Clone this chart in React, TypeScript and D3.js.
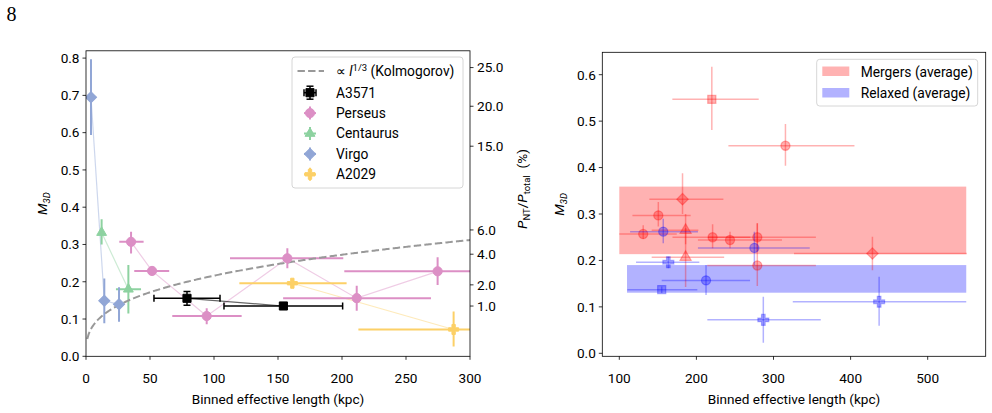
import React from "react";
import * as d3 from "d3";

// ---------- Left panel data (l: kpc, m: M3D, with error ranges) ----------
const a3571 = [
  { l: 78.9, m: 0.1556, l0: 53.1, l1: 104.7, m0: 0.137, m1: 0.174 },
  { l: 154.2, m: 0.135, l0: 107.8, l1: 200.5, m0: 0.13, m1: 0.14 },
];
const perseus = [
  { l: 35.2, m: 0.307, l0: 26, l1: 45, m0: 0.276, m1: 0.334 },
  { l: 51.6, m: 0.229, l0: 37.7, l1: 65, m0: 0.218, m1: 0.24 },
  { l: 94.3, m: 0.108, l0: 67.4, l1: 121.6, m0: 0.086, m1: 0.129 },
  { l: 157.3, m: 0.263, l0: 112.5, l1: 201, m0: 0.236, m1: 0.29 },
  { l: 211.5, m: 0.156, l0: 154, l1: 269.5, m0: 0.122, m1: 0.189 },
  { l: 274.7, m: 0.228, l0: 201.8, l1: 350, m0: 0.191, m1: 0.266 },
];
const centaurus = [
  { l: 12.2, m: 0.332, l0: 12.2, l1: 12.2, m0: 0.3, m1: 0.368 },
  { l: 33.1, m: 0.18, l0: 23.4, l1: 43, m0: 0.115, m1: 0.245 },
];
const virgo = [
  { l: 3.9, m: 0.695, l0: 3.9, l1: 3.9, m0: 0.594, m1: 0.797 },
  { l: 14.3, m: 0.149, l0: 14.3, l1: 14.3, m0: 0.0885, m1: 0.209 },
  { l: 25.8, m: 0.1395, l0: 25.8, l1: 25.8, m0: 0.093, m1: 0.185 },
];
const a2029 = [
  { l: 161.2, m: 0.196, l0: 119.8, l1: 203.6, m0: 0.185, m1: 0.207 },
  { l: 287.2, m: 0.072, l0: 212.8, l1: 360, m0: 0.026, m1: 0.12 },
];
const kolmoNorm = 0.0466;
const leftXTicks = [0, 50, 100, 150, 200, 250, 300];
const leftYTicks = [0, 0.1, 0.2, 0.3, 0.4, 0.5, 0.6, 0.7, 0.8];
const pntTicks = [25.0, 20.0, 15.0, 6.0, 4.0, 2.0, 1.0];

// ---------- Right panel data ----------
const mergers = [
  { s: "square", l: 220, m: 0.547, l0: 168.8, l1: 280.8, m0: 0.481, m1: 0.617 },
  { s: "circle", l: 315.5, m: 0.447, l0: 241.5, l1: 405, m0: 0.404, m1: 0.494 },
  { s: "diamond", l: 182, m: 0.332, l0: 139, l1: 235, m0: 0.3, m1: 0.388 },
  { s: "circle", l: 150.6, m: 0.297, l0: 117, l1: 192.6, m0: 0.273, m1: 0.326 },
  { s: "circle", l: 131, m: 0.257, l0: 100, l1: 174.5, m0: 0.246, m1: 0.276 },
  { s: "triangle", l: 186, m: 0.265, l0: 142, l1: 202.5, m0: 0.235, m1: 0.3 },
  { s: "triangle", l: 186, m: 0.207, l0: 142, l1: 236, m0: 0.143, m1: 0.27 },
  { s: "circle", l: 221, m: 0.25, l0: 169, l1: 270, m0: 0.226, m1: 0.278 },
  { s: "circle", l: 243.6, m: 0.244, l0: 202, l1: 311, m0: 0.226, m1: 0.262 },
  { s: "circle", l: 279, m: 0.25, l0: 215, l1: 355, m0: 0.22, m1: 0.28 },
  { s: "circle", l: 279, m: 0.189, l0: 214, l1: 355, m0: 0.145, m1: 0.28 },
  { s: "diamond", l: 428.3, m: 0.215, l0: 326.6, l1: 550.7, m0: 0.179, m1: 0.251 },
];
const relaxed = [
  { s: "circle", l: 157, m: 0.262, l0: 114, l1: 202, m0: 0.237, m1: 0.29 },
  { s: "circle", l: 275.2, m: 0.227, l0: 202, l1: 347, m0: 0.19, m1: 0.262 },
  { s: "plus", l: 163.6, m: 0.196, l0: 121.7, l1: 203.8, m0: 0.183, m1: 0.208 },
  { s: "circle", l: 212.5, m: 0.157, l0: 155, l1: 269.6, m0: 0.1255, m1: 0.19 },
  { s: "square", l: 155, m: 0.137, l0: 110.4, l1: 201.2, m0: 0.13, m1: 0.144 },
  { s: "plus", l: 286.8, m: 0.072, l0: 214.2, l1: 361.3, m0: 0.0228, m1: 0.122 },
  { s: "plus", l: 437, m: 0.111, l0: 325, l1: 550, m0: 0.0595, m1: 0.165 },
];
const mergerBand = { l0: 100, l1: 550, m0: 0.2135, m1: 0.359 };
const relaxedBand = { l0: 110, l1: 550, m0: 0.1305, m1: 0.19 };
const rightXTicks = [100, 200, 300, 400, 500];
const rightYTicks = [0, 0.1, 0.2, 0.3, 0.4, 0.5, 0.6];

const FONT = "Roboto, 'DejaVu Sans', sans-serif";
const AX = 13.6; // axis font size
const LG = 13.8; // legend font size

// scales
const xL = d3.scaleLinear().domain([0, 300]).range([86, 470]);
const yL = d3.scaleLinear().domain([0, 0.8]).range([356.3, 58.1]);
const LB = { x0: 86, x1: 470, y0: 50.8, y1: 356.3 };
const xR = d3.scaleLinear().domain([100, 500]).range([619.3, 927.7]);
const yR = d3.scaleLinear().domain([0, 0.6]).range([353.3, 74.7]);
const RB = { x0: 602.3, x1: 985.7, y0: 52.3, y1: 356.3 };

const pntToM = (p: number) => {
  const f = p / 100;
  return Math.sqrt((9 / 5) * (f / (1 - f)));
};

function markerPath(type: string, size: number) {
  const t =
    type === "circle" ? d3.symbolCircle :
    type === "square" || type === "diamond" ? d3.symbolSquare :
    type === "triangle" ? d3.symbolTriangle :
    d3.symbolCross;
  return d3.symbol(t, size)() as string;
}

function Marker({ type, x, y, size, fill, stroke, opacity = 1, sw = 1 }: any) {
  const rot = type === "diamond" ? 45 : 0;
  return (
    <path
      d={markerPath(type, size)}
      transform={`translate(${x},${y}) rotate(${rot})`}
      fill={fill}
      fillOpacity={opacity}
      stroke={stroke}
      strokeOpacity={opacity}
      strokeWidth={sw}
    />
  );
}

const markerSize: Record<string, number> = { circle: 66, square: 66, diamond: 62, triangle: 42, plus: 56 };

const leftSeries = [
  { name: "Perseus", data: perseus, color: "#dc8fc5", marker: "circle" },
  { name: "Centaurus", data: centaurus, color: "#8dd2a0", marker: "triangle" },
  { name: "Virgo", data: virgo, color: "#91a6d6", marker: "diamond" },
  { name: "A2029", data: a2029, color: "#fcd067", marker: "plus" },
];

export default function App() {
  const kolmo = d3.range(1, 301, 1).map((l) => [xL(l), yL(kolmoNorm * Math.cbrt(l))]);
  const line = d3.line();
  const lineFor = (data: any[], xs: any, ys: any) =>
    line(data.map((d) => [xs(d.l), ys(d.m)]) as any) as string;

  const legendItems = [
    { name: "A3571", color: "#000", marker: "square" },
    { name: "Perseus", color: "#dc8fc5", marker: "circle" },
    { name: "Centaurus", color: "#8dd2a0", marker: "triangle" },
    { name: "Virgo", color: "#91a6d6", marker: "diamond" },
    { name: "A2029", color: "#fcd067", marker: "plus" },
  ];

  return (
    <svg width={992} height={413} style={{ position: "absolute", left: 0, top: 0 }} fontFamily={FONT}>
      <rect x={0} y={0} width={992} height={413} fill="#fff" />
      <text x={6.5} y={20.5} fontFamily="'Liberation Serif', 'DejaVu Serif', serif" fontSize={20}>8</text>

      <defs>
        <clipPath id="clipL">
          <rect x={LB.x0} y={LB.y0} width={LB.x1 - LB.x0} height={LB.y1 - LB.y0} />
        </clipPath>
        <clipPath id="clipR">
          <rect x={RB.x0} y={RB.y0} width={RB.x1 - RB.x0} height={RB.y1 - RB.y0} />
        </clipPath>
      </defs>

      {/* ---------------- LEFT PANEL ---------------- */}
      <g clipPath="url(#clipL)">
        {leftSeries.map((s) => (
          <path key={s.name + "ln"} d={lineFor(s.data, xL, yL)} fill="none" stroke={s.color} strokeOpacity={0.45} strokeWidth={1.2} />
        ))}
        <path d={lineFor(a3571, xL, yL)} fill="none" stroke="#000" strokeOpacity={0.6} strokeWidth={1.2} />
        {leftSeries.map((s) =>
          s.data.map((d: any, i: number) => (
            <g key={s.name + "e" + i} stroke={s.color} strokeWidth={2}>
              {d.l1 > d.l0 && <line x1={xL(d.l0)} x2={xL(d.l1)} y1={yL(d.m)} y2={yL(d.m)} />}
              <line x1={xL(d.l)} x2={xL(d.l)} y1={yL(d.m0)} y2={yL(d.m1)} />
            </g>
          ))
        )}
        {a3571.map((d, i) => (
          <g key={"a3e" + i} stroke="#000" strokeWidth={1.5}>
            <line x1={xL(d.l0)} x2={xL(d.l1)} y1={yL(d.m)} y2={yL(d.m)} />
            <line x1={xL(d.l0)} x2={xL(d.l0)} y1={yL(d.m) - 3.5} y2={yL(d.m) + 3.5} />
            <line x1={xL(d.l1)} x2={xL(d.l1)} y1={yL(d.m) - 3.5} y2={yL(d.m) + 3.5} />
            <line x1={xL(d.l)} x2={xL(d.l)} y1={yL(d.m0)} y2={yL(d.m1)} />
            <line x1={xL(d.l) - 3.5} x2={xL(d.l) + 3.5} y1={yL(d.m0)} y2={yL(d.m0)} />
            <line x1={xL(d.l) - 3.5} x2={xL(d.l) + 3.5} y1={yL(d.m1)} y2={yL(d.m1)} />
          </g>
        ))}
        <path d={line(kolmo as any) as string} fill="none" stroke="#999" strokeWidth={2} strokeDasharray="7.4 3.2" />
        {leftSeries.map((s) =>
          s.data.map((d: any, i: number) => (
            <Marker key={s.name + "m" + i} type={s.marker} x={xL(d.l)} y={yL(d.m)} size={markerSize[s.marker]} fill={s.color} stroke={s.color} />
          ))
        )}
        {a3571.map((d, i) => (
          <Marker key={"a3m" + i} type="square" x={xL(d.l)} y={yL(d.m)} size={66} fill="#000" stroke="#000" />
        ))}
      </g>

      <rect x={LB.x0} y={LB.y0} width={LB.x1 - LB.x0} height={LB.y1 - LB.y0} fill="none" stroke="#000" strokeWidth={0.8} />
      {leftXTicks.map((t) => (
        <g key={"lx" + t}>
          <line x1={xL(t)} x2={xL(t)} y1={LB.y1} y2={LB.y1 + 3.5} stroke="#000" strokeWidth={0.8} />
          <text x={xL(t)} y={383} fontSize={AX} textAnchor="middle">{t}</text>
        </g>
      ))}
      <text x={(LB.x0 + LB.x1) / 2} y={404} fontSize={AX} textAnchor="middle">Binned effective length (kpc)</text>
      {leftYTicks.map((t) => (
        <g key={"ly" + t}>
          <line x1={LB.x0 - 3.5} x2={LB.x0} y1={yL(t)} y2={yL(t)} stroke="#000" strokeWidth={0.8} />
          <text x={LB.x0 - 6.5} y={yL(t) + 4.8} fontSize={AX} textAnchor="end">{t.toFixed(1)}</text>
        </g>
      ))}
      <text transform={`translate(47,${(LB.y0 + LB.y1) / 2}) rotate(-90)`} fontSize={AX} textAnchor="middle">
        <tspan fontStyle="italic">M</tspan>
        <tspan fontSize={9.5} fontStyle="italic" dy={2.5}>3D</tspan>
      </text>
      {pntTicks.map((p) => (
        <g key={"ry" + p}>
          <line x1={LB.x1} x2={LB.x1 + 3.5} y1={yL(pntToM(p))} y2={yL(pntToM(p))} stroke="#000" strokeWidth={0.8} />
          <text x={LB.x1 + 7} y={yL(pntToM(p)) + 4.8} fontSize={AX} textAnchor="start">{p.toFixed(1)}</text>
        </g>
      ))}
      <text transform={`translate(527,${189}) rotate(-90)`} fontSize={AX} textAnchor="middle">
        <tspan fontStyle="italic">P</tspan>
        <tspan fontSize={9.5} dy={2.5}>NT</tspan>
        <tspan dy={-2.5}>/</tspan>
        <tspan fontStyle="italic">P</tspan>
        <tspan fontSize={9.5} dy={2.5}>total</tspan>
        <tspan dy={-2.5}>{"\u2002(%)"}</tspan>
      </text>

      {/* left legend */}
      <rect x={292} y={57} width={171} height={131} rx={3} fill="#fff" fillOpacity={0.8} stroke="#ccc" strokeWidth={0.8} />
      <line x1={297.5} x2={324} y1={71} y2={71} stroke="#999" strokeWidth={2} strokeDasharray="7.4 3.2" />
      <text x={336} y={76} fontSize={LG}>
        <tspan>{"\u221D "}</tspan>
        <tspan fontStyle="italic">l</tspan>
        <tspan fontSize={9.5} dy={-5.5}>1/3</tspan>
        <tspan dy={5.5}>{" (Kolmogorov)"}</tspan>
      </text>
      {legendItems.map((it, i) => {
        const cy = 92.7 + i * 20.4;
        const isBlack = it.name === "A3571";
        return (
          <g key={"lg" + it.name}>
            <g stroke={it.color} strokeWidth={isBlack ? 1.5 : 2}>
              <line x1={304} x2={316} y1={cy} y2={cy} />
              <line x1={310} x2={310} y1={cy - 6.5} y2={cy + 6.5} />
              {isBlack && (
                <>
                  <line x1={304} x2={304} y1={cy - 3.5} y2={cy + 3.5} />
                  <line x1={316} x2={316} y1={cy - 3.5} y2={cy + 3.5} />
                  <line x1={306.5} x2={313.5} y1={cy - 6.5} y2={cy - 6.5} />
                  <line x1={306.5} x2={313.5} y1={cy + 6.5} y2={cy + 6.5} />
                </>
              )}
            </g>
            <Marker type={it.marker} x={310} y={cy} size={markerSize[it.marker]} fill={it.color} stroke={it.color} />
            <text x={336} y={cy + 4.8} fontSize={LG}>{it.name}</text>
          </g>
        );
      })}

      {/* ---------------- RIGHT PANEL ---------------- */}
      <g clipPath="url(#clipR)">
        <rect x={xR(mergerBand.l0)} y={yR(mergerBand.m1)} width={xR(mergerBand.l1) - xR(mergerBand.l0)} height={yR(mergerBand.m0) - yR(mergerBand.m1)} fill="#ff0000" fillOpacity={0.3} />
        <rect x={xR(relaxedBand.l0)} y={yR(relaxedBand.m1)} width={xR(relaxedBand.l1) - xR(relaxedBand.l0)} height={yR(relaxedBand.m0) - yR(relaxedBand.m1)} fill="#0000ff" fillOpacity={0.3} />
        {[
          { data: mergers, color: "#ff0000" },
          { data: relaxed, color: "#0000ff" },
        ].map((g, gi) =>
          g.data.map((d: any, i: number) => (
            <g key={"rp" + gi + "-" + i}>
              <line x1={xR(d.l0)} x2={xR(d.l1)} y1={yR(d.m)} y2={yR(d.m)} stroke={g.color} strokeOpacity={0.3} strokeWidth={1.5} />
              <line x1={xR(d.l)} x2={xR(d.l)} y1={yR(d.m0)} y2={yR(d.m1)} stroke={g.color} strokeOpacity={0.3} strokeWidth={1.5} />
              <Marker type={d.s} x={xR(d.l)} y={yR(d.m)} size={d.s === "triangle" ? 55 : 66} fill={g.color} stroke={g.color} opacity={0.3} sw={1.2} />
            </g>
          ))
        )}
      </g>
      <rect x={RB.x0} y={RB.y0} width={RB.x1 - RB.x0} height={RB.y1 - RB.y0} fill="none" stroke="#000" strokeWidth={0.8} />
      {rightXTicks.map((t) => (
        <g key={"rx" + t}>
          <line x1={xR(t)} x2={xR(t)} y1={RB.y1} y2={RB.y1 + 3.5} stroke="#000" strokeWidth={0.8} />
          <text x={xR(t)} y={383} fontSize={AX} textAnchor="middle">{t}</text>
        </g>
      ))}
      <text x={(RB.x0 + RB.x1) / 2} y={404} fontSize={AX} textAnchor="middle">Binned effective length (kpc)</text>
      {rightYTicks.map((t) => (
        <g key={"ryt" + t}>
          <line x1={RB.x0 - 3.5} x2={RB.x0} y1={yR(t)} y2={yR(t)} stroke="#000" strokeWidth={0.8} />
          <text x={RB.x0 - 6.5} y={yR(t) + 4.8} fontSize={AX} textAnchor="end">{t.toFixed(1)}</text>
        </g>
      ))}
      <text transform={`translate(564,${(RB.y0 + RB.y1) / 2}) rotate(-90)`} fontSize={AX} textAnchor="middle">
        <tspan fontStyle="italic">M</tspan>
        <tspan fontSize={9.5} fontStyle="italic" dy={2.5}>3D</tspan>
      </text>

      {/* right legend */}
      <rect x={816.7} y={59.3} width={161} height={46.7} rx={3} fill="#fff" fillOpacity={0.8} stroke="#ccc" strokeWidth={0.8} />
      <rect x={822.3} y={66.5} width={27} height={9.5} fill="#ff0000" fillOpacity={0.3} />
      <text x={860.7} y={76.5} fontSize={LG}>Mergers (average)</text>
      <rect x={822.3} y={88} width={27} height={9.5} fill="#0000ff" fillOpacity={0.3} />
      <text x={860.7} y={97.5} fontSize={LG}>Relaxed (average)</text>
    </svg>
  );
}
